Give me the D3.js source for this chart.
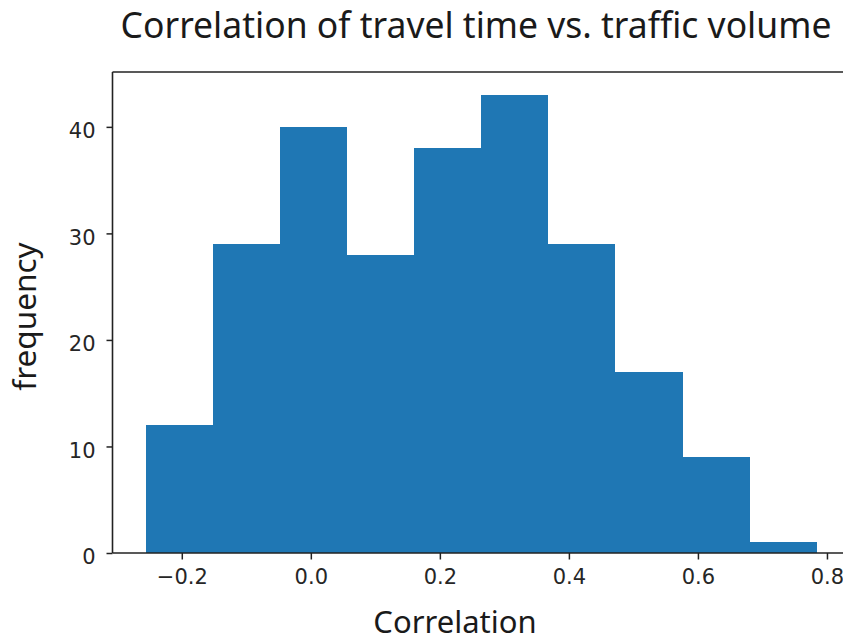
<!DOCTYPE html>
<html>
<head>
<meta charset="utf-8">
<script src="https://cdn.jsdelivr.net/npm/d3@7"></script>
<style>
  html, body { margin: 0; padding: 0; background: #fff; }
  svg { display: block; }
</style>
</head>
<body>
<svg id="chart" width="843" height="641"></svg>
<script>
// Histogram of correlation coefficients: bin edges and counts per bin
const binEdges = [-0.2555, -0.1515, -0.0476, 0.0564, 0.1603, 0.2643, 0.3682, 0.4722, 0.5761, 0.6801, 0.7840];
const counts = [12, 29, 40, 28, 38, 43, 29, 17, 9, 1];
const xTicks = [-0.2, 0.0, 0.2, 0.4, 0.6, 0.8];
const yTicks = [0, 10, 20, 30, 40];
const titleText = "Correlation of travel time vs. traffic volume";
const xLabel = "Correlation";
const yLabel = "frequency";

const bins = counts.map((c, i) => ({ x0: binEdges[i], x1: binEdges[i + 1], count: c }));

const svg = d3.select("#chart");
const plot = { left: 112.5, right: 850, top: 72, bottom: 553 };

const x = d3.scaleLinear().domain([-0.3074, 0.8357]).range([plot.left, plot.right]);
const y = d3.scaleLinear().domain([0, 45.15]).range([plot.bottom, plot.top]);

// bars
svg.append("g").selectAll("rect").data(bins).join("rect")
  .attr("x", d => x(d.x0))
  .attr("y", d => y(d.count))
  .attr("width", d => x(d.x1) - x(d.x0))
  .attr("height", d => y(0) - y(d.count))
  .attr("fill", "#1f77b4")
  .attr("shape-rendering", "crispEdges");

const fmt = d => (d < 0 ? "\u2212" : "") + Math.abs(d).toFixed(1);
const tickFont = "'DejaVu Sans', sans-serif";

// x axis
const xAxis = svg.append("g")
  .attr("transform", `translate(0,${plot.bottom})`)
  .call(d3.axisBottom(x).tickValues(xTicks).tickFormat(fmt).tickSizeInner(6.5).tickSizeOuter(0).tickPadding(9.5));
// y axis
const yAxis = svg.append("g")
  .attr("transform", `translate(${plot.left},0)`)
  .call(d3.axisLeft(y).tickValues(yTicks).tickFormat(d3.format("d")).tickSizeInner(6).tickSizeOuter(0).tickPadding(11));

[xAxis, yAxis].forEach(g => {
  g.select(".domain").remove();
  g.selectAll(".tick line").attr("stroke", "#222").attr("stroke-width", 1.5);
  g.selectAll(".tick text")
    .attr("fill", "#262626")
    .style("font-family", tickFont)
    .style("font-size", "21px");
});
yAxis.selectAll(".tick text").attr("dy", "0.52em");

// frame (left, bottom, top, right spines)
const spine = svg.append("g").attr("stroke", "#222").attr("stroke-width", 1.6).attr("fill", "none");
spine.append("line").attr("x1", plot.left).attr("x2", plot.left).attr("y1", plot.top).attr("y2", plot.bottom);
spine.append("line").attr("x1", plot.left).attr("x2", plot.right).attr("y1", plot.bottom).attr("y2", plot.bottom);
spine.append("line").attr("x1", plot.left).attr("x2", plot.right).attr("y1", plot.top).attr("y2", plot.top);
spine.append("line").attr("x1", plot.right).attr("x2", plot.right).attr("y1", plot.top).attr("y2", plot.bottom);

const labelFont = "'Noto Sans', 'Open Sans', sans-serif";

// title
svg.append("text")
  .attr("x", 476).attr("y", 37.5)
  .attr("text-anchor", "middle")
  .style("font-family", labelFont)
  .style("font-size", "35.5px")
  .attr("fill", "#1a1a1a")
  .text(titleText);

// axis labels
svg.append("text")
  .attr("x", 455).attr("y", 633)
  .attr("text-anchor", "middle")
  .style("font-family", labelFont)
  .style("font-size", "31px")
  .attr("fill", "#1a1a1a")
  .text(xLabel);

svg.append("text")
  .attr("transform", "translate(36,316.5) rotate(-90)")
  .attr("text-anchor", "middle")
  .style("font-family", labelFont)
  .style("font-size", "31.5px")
  .attr("fill", "#1a1a1a")
  .text(yLabel);
</script>
</body>
</html>
